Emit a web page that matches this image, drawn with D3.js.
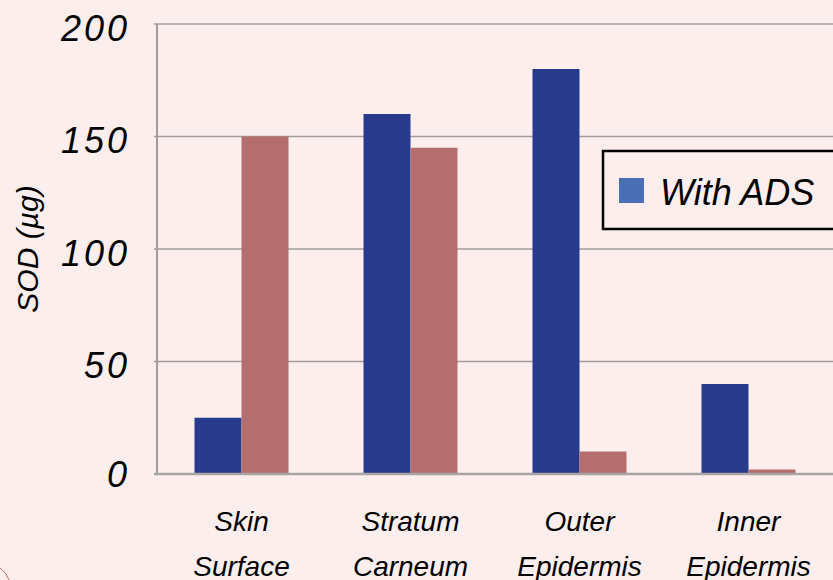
<!DOCTYPE html>
<html>
<head>
<meta charset="utf-8">
<script src="https://cdn.jsdelivr.net/npm/d3@7"></script>
<style>
  body { margin: 0; background: #fdeeee; overflow: hidden; }
  text { font-family: "Liberation Sans", Arial, sans-serif; font-style: italic; fill: #000; }
</style>
</head>
<body>
<script>
// dati
var categories = [["Skin", "Surface"], ["Stratum", "Carneum"], ["Outer", "Epidermis"], ["Inner", "Epidermis"]];
var withADS = [25, 160, 180, 40];
var withoutADS = [150, 145, 10, 2];
var yTicks = [0, 50, 100, 150, 200];
var seriesNames = ["With ADS"];

var W = 833, H = 580;
var margin = {top: 24, right: 0, bottom: 106, left: 157};
var plotW = W - margin.left - margin.right;
var plotH = H - margin.top - margin.bottom;

var svg = d3.select("body").append("svg")
    .attr("width", W)
    .attr("height", H)
    .style("background", "#fdeeee");

var g = svg.append("g")
    .attr("transform", "translate(" + margin.left + "," + margin.top + ")");

var x = d3.scaleBand()
    .domain(d3.range(categories.length))
    .range([0, plotW])
    .paddingInner(0)
    .paddingOuter(0);

var y = d3.scaleLinear()
    .domain([0, 200])
    .range([plotH, 0]);

var barW = 47;

// griglia orizzontale
g.selectAll(".grid")
    .data(yTicks)
    .enter().append("line")
    .attr("x1", -3)
    .attr("x2", plotW + 20)
    .attr("y1", function(d) { return y(d); })
    .attr("y2", function(d) { return y(d); })
    .attr("stroke", "#a09c9c")
    .attr("stroke-width", 1.5);

// asse verticale
g.append("line")
    .attr("x1", 0).attr("x2", 0)
    .attr("y1", 0).attr("y2", plotH)
    .attr("stroke", "#a09c9c")
    .attr("stroke-width", 2);

// barre
g.selectAll(".barA")
    .data(withADS)
    .enter().append("rect")
    .attr("x", function(d, i) { return x(i) + x.bandwidth() / 2 - barW; })
    .attr("y", function(d) { return y(d); })
    .attr("width", barW)
    .attr("height", function(d) { return plotH - y(d); })
    .attr("fill", "#273a8b");

g.selectAll(".barB")
    .data(withoutADS)
    .enter().append("rect")
    .attr("x", function(d, i) { return x(i) + x.bandwidth() / 2; })
    .attr("y", function(d) { return y(d); })
    .attr("width", barW)
    .attr("height", function(d) { return plotH - y(d); })
    .attr("fill", "#b56e6e");

// linea di base
g.append("line")
    .attr("x1", -3).attr("x2", plotW + 20)
    .attr("y1", plotH).attr("y2", plotH)
    .attr("stroke", "#a8a4a4")
    .attr("stroke-width", 2.5);

// etichette asse y
g.selectAll(".ytick")
    .data(yTicks)
    .enter().append("text")
    .attr("x", -27)
    .attr("y", function(d) { return y(d) + (d == 0 ? 0 : 4); })
    .attr("dy", "0.36em")
    .attr("text-anchor", "end")
    .style("font-size", "36px")
    .style("letter-spacing", "3px")
    .text(function(d) { return d; });

// etichette categorie
var cat = g.selectAll(".cat")
    .data(categories)
    .enter().append("text")
    .attr("text-anchor", "middle")
    .style("font-size", "28px")
    .attr("transform", function(d, i) { return "translate(" + (x(i) + x.bandwidth() / 2) + "," + (plotH + 57) + ")"; });
cat.append("tspan").attr("x", 0).attr("y", 0).text(function(d) { return d[0]; });
cat.append("tspan").attr("x", 0).attr("y", 45).text(function(d) { return d[1]; });

// titolo asse y
svg.append("text")
    .attr("transform", "translate(38,249) rotate(-90)")
    .attr("text-anchor", "middle")
    .style("font-size", "30px")
    .text("SOD (µg)");

// legenda (tagliata a destra come nell'originale)
var leg = svg.append("g").attr("transform", "translate(603,151)");
leg.append("rect")
    .attr("width", 260)
    .attr("height", 78)
    .attr("fill", "#fdeeee")
    .attr("stroke", "#000")
    .attr("stroke-width", 2.5);
leg.append("rect")
    .attr("x", 16).attr("y", 27)
    .attr("width", 25).attr("height", 25)
    .attr("fill", "#4a6fb5");
leg.append("text")
    .attr("x", 57).attr("y", 54)
    .style("font-size", "36px")
    .text(seriesNames[0]);

// piccolo decoro in basso a sinistra
svg.append("path")
    .attr("d", "M0,568 Q6,572 9,580")
    .attr("fill", "none")
    .attr("stroke", "#b56e6e")
    .attr("stroke-width", 1);
</script>
</body>
</html>
